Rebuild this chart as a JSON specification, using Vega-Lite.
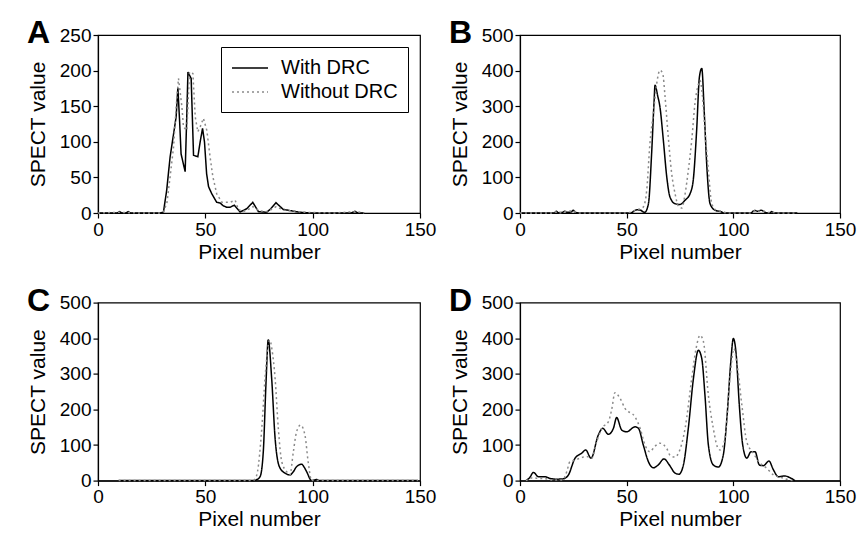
{
  "$schema": "https://vega.github.io/schema/vega-lite/v6.json",
  "background": "white",
  "padding": {"left": 26, "top": 16, "right": 0, "bottom": 0},
  "config": {
    "font": "Liberation Sans",
    "view": {"stroke": "black", "strokeWidth": 1.2},
    "axis": {"domainColor": "black", "domainWidth": 1.2, "tickColor": "black", "tickWidth": 1.2, "tickSize": 5, "labelColor": "black", "titleColor": "black", "grid": false, "labelFontSize": 19, "titleFontSize": 21, "titleFontWeight": "normal", "labelPadding": 2, "labelFlush": false, "labelOverlap": false},
    "axisY": {"titlePadding": 11},
    "axisX": {"titlePadding": 2},
    "legend": {"orient": "top-right", "offset": 12, "strokeColor": "black", "padding": 10, "labelFontSize": 20, "labelColor": "black", "symbolType": "M-1,0H2.6", "symbolSize": 400, "symbolStrokeWidth": 1.5, "labelOffset": 28, "rowPadding": 3, "fillColor": "white"},
    "title": {"anchor": "start", "frame": "group", "fontSize": 32, "fontWeight": "bold", "color": "black", "dx": -71, "dy": 28, "offset": 0, "baseline": "alphabetic"},
    "line": {"strokeWidth": 1.5}
  },
  "datasets": {
    "A": [
      {"x":0,"y":0,"s":"With DRC"},{"x":5,"y":0,"s":"With DRC"},{"x":9,"y":0,"s":"With DRC"},{"x":10,"y":2,"s":"With DRC"},{"x":11,"y":0,"s":"With DRC"},{"x":13,"y":0,"s":"With DRC"},{"x":14,"y":2,"s":"With DRC"},{"x":15,"y":0,"s":"With DRC"},{"x":20,"y":0,"s":"With DRC"},{"x":25,"y":0,"s":"With DRC"},{"x":29,"y":0,"s":"With DRC"},{"x":30.5,"y":1.4,"s":"With DRC"},{"x":32,"y":32,"s":"With DRC"},{"x":33.6,"y":79,"s":"With DRC"},{"x":35.2,"y":111,"s":"With DRC"},{"x":36.4,"y":135,"s":"With DRC"},{"x":37.2,"y":176,"s":"With DRC"},{"x":38,"y":130,"s":"With DRC"},{"x":38.7,"y":83,"s":"With DRC"},{"x":40.6,"y":58,"s":"With DRC"},{"x":41.3,"y":130,"s":"With DRC"},{"x":41.9,"y":198,"s":"With DRC"},{"x":43.4,"y":189,"s":"With DRC"},{"x":44.5,"y":81,"s":"With DRC"},{"x":46.5,"y":79,"s":"With DRC"},{"x":47.6,"y":100,"s":"With DRC"},{"x":48.7,"y":119,"s":"With DRC"},{"x":49.6,"y":100,"s":"With DRC"},{"x":50.6,"y":55,"s":"With DRC"},{"x":51.5,"y":37,"s":"With DRC"},{"x":53,"y":27,"s":"With DRC"},{"x":55.3,"y":15,"s":"With DRC"},{"x":56.9,"y":14,"s":"With DRC"},{"x":58.4,"y":10,"s":"With DRC"},{"x":60,"y":8,"s":"With DRC"},{"x":61.5,"y":8,"s":"With DRC"},{"x":63.5,"y":11,"s":"With DRC"},{"x":66.2,"y":1.4,"s":"With DRC"},{"x":69.3,"y":6,"s":"With DRC"},{"x":72.1,"y":15,"s":"With DRC"},{"x":74.7,"y":2,"s":"With DRC"},{"x":78.6,"y":1,"s":"With DRC"},{"x":80.5,"y":6,"s":"With DRC"},{"x":82.9,"y":14.5,"s":"With DRC"},{"x":86.3,"y":5,"s":"With DRC"},{"x":90.2,"y":3,"s":"With DRC"},{"x":94,"y":1,"s":"With DRC"},{"x":100,"y":0,"s":"With DRC"},{"x":110,"y":0,"s":"With DRC"},{"x":118,"y":0,"s":"With DRC"},{"x":119.7,"y":2.4,"s":"With DRC"},{"x":121,"y":0,"s":"With DRC"},{"x":124,"y":0,"s":"With DRC"},
      {"x":0,"y":0,"s":"Without DRC"},{"x":10,"y":1,"s":"Without DRC"},{"x":20,"y":0,"s":"Without DRC"},{"x":29,"y":0,"s":"Without DRC"},{"x":30.5,"y":2,"s":"Without DRC"},{"x":32.1,"y":14,"s":"Without DRC"},{"x":33.6,"y":51,"s":"Without DRC"},{"x":35.2,"y":93,"s":"Without DRC"},{"x":36.4,"y":149,"s":"Without DRC"},{"x":37.5,"y":189,"s":"Without DRC"},{"x":39.1,"y":149,"s":"Without DRC"},{"x":39.8,"y":121,"s":"Without DRC"},{"x":41.4,"y":116,"s":"Without DRC"},{"x":42.6,"y":198,"s":"Without DRC"},{"x":44.2,"y":196,"s":"Without DRC"},{"x":45.3,"y":135,"s":"Without DRC"},{"x":46.5,"y":114,"s":"Without DRC"},{"x":47.6,"y":121,"s":"Without DRC"},{"x":49.1,"y":133,"s":"Without DRC"},{"x":50.7,"y":116,"s":"Without DRC"},{"x":52.2,"y":79,"s":"Without DRC"},{"x":53.5,"y":51,"s":"Without DRC"},{"x":55.3,"y":27,"s":"Without DRC"},{"x":57.7,"y":15,"s":"Without DRC"},{"x":61.5,"y":15,"s":"Without DRC"},{"x":63.9,"y":18,"s":"Without DRC"},{"x":65.4,"y":5,"s":"Without DRC"},{"x":67.5,"y":2,"s":"Without DRC"},{"x":69.5,"y":4,"s":"Without DRC"},{"x":72.2,"y":9,"s":"Without DRC"},{"x":75,"y":3,"s":"Without DRC"},{"x":79,"y":2,"s":"Without DRC"},{"x":83,"y":9,"s":"Without DRC"},{"x":86.5,"y":4,"s":"Without DRC"},{"x":91,"y":3,"s":"Without DRC"},{"x":95,"y":1,"s":"Without DRC"},{"x":110,"y":0,"s":"Without DRC"},{"x":120,"y":2,"s":"Without DRC"},{"x":124,"y":0,"s":"Without DRC"}
    ],
    "B": [
      {"x":0,"y":0,"s":"With DRC"},{"x":10,"y":0,"s":"With DRC"},{"x":16,"y":0,"s":"With DRC"},{"x":17,"y":5,"s":"With DRC"},{"x":18,"y":1,"s":"With DRC"},{"x":20,"y":2,"s":"With DRC"},{"x":21,"y":5,"s":"With DRC"},{"x":22,"y":2,"s":"With DRC"},{"x":24,"y":3,"s":"With DRC"},{"x":25,"y":8,"s":"With DRC"},{"x":26,"y":2,"s":"With DRC"},{"x":28,"y":0,"s":"With DRC"},{"x":40,"y":0,"s":"With DRC"},{"x":52,"y":0,"s":"With DRC"},{"x":53.5,"y":6,"s":"With DRC"},{"x":55,"y":9,"s":"With DRC"},{"x":56.5,"y":8,"s":"With DRC"},{"x":57.5,"y":4,"s":"With DRC"},{"x":58.5,"y":2,"s":"With DRC"},{"x":60.2,"y":26,"s":"With DRC"},{"x":61.7,"y":167,"s":"With DRC"},{"x":62.8,"y":307,"s":"With DRC"},{"x":63.3,"y":359,"s":"With DRC"},{"x":64.5,"y":330,"s":"With DRC"},{"x":65.6,"y":298,"s":"With DRC"},{"x":67.2,"y":204,"s":"With DRC"},{"x":68.8,"y":101,"s":"With DRC"},{"x":70.3,"y":45,"s":"With DRC"},{"x":72.7,"y":26,"s":"With DRC"},{"x":75,"y":24,"s":"With DRC"},{"x":77.4,"y":36,"s":"With DRC"},{"x":79.7,"y":54,"s":"With DRC"},{"x":81.2,"y":92,"s":"With DRC"},{"x":82.8,"y":232,"s":"With DRC"},{"x":84.1,"y":382,"s":"With DRC"},{"x":85.2,"y":406,"s":"With DRC"},{"x":86.4,"y":279,"s":"With DRC"},{"x":87.5,"y":139,"s":"With DRC"},{"x":89.1,"y":26,"s":"With DRC"},{"x":91.4,"y":8,"s":"With DRC"},{"x":94,"y":4,"s":"With DRC"},{"x":96,"y":0,"s":"With DRC"},{"x":108,"y":0,"s":"With DRC"},{"x":110,"y":7,"s":"With DRC"},{"x":111.5,"y":5,"s":"With DRC"},{"x":113,"y":8,"s":"With DRC"},{"x":115,"y":2,"s":"With DRC"},{"x":117,"y":0,"s":"With DRC"},{"x":118,"y":4,"s":"With DRC"},{"x":119,"y":0,"s":"With DRC"},{"x":125,"y":0,"s":"With DRC"},{"x":130,"y":0,"s":"With DRC"},
      {"x":0,"y":0,"s":"Without DRC"},{"x":16,"y":0,"s":"Without DRC"},{"x":17,"y":4,"s":"Without DRC"},{"x":19,"y":1,"s":"Without DRC"},{"x":21,"y":4,"s":"Without DRC"},{"x":25,"y":6,"s":"Without DRC"},{"x":27,"y":0,"s":"Without DRC"},{"x":50,"y":0,"s":"Without DRC"},{"x":53,"y":5,"s":"Without DRC"},{"x":55,"y":10,"s":"Without DRC"},{"x":56.5,"y":12,"s":"Without DRC"},{"x":57.8,"y":17,"s":"Without DRC"},{"x":59.4,"y":64,"s":"Without DRC"},{"x":60.9,"y":195,"s":"Without DRC"},{"x":62.5,"y":279,"s":"Without DRC"},{"x":64.1,"y":364,"s":"Without DRC"},{"x":65.6,"y":401,"s":"Without DRC"},{"x":66.9,"y":392,"s":"Without DRC"},{"x":68,"y":326,"s":"Without DRC"},{"x":69.5,"y":214,"s":"Without DRC"},{"x":71.1,"y":111,"s":"Without DRC"},{"x":72.7,"y":54,"s":"Without DRC"},{"x":74.2,"y":20,"s":"Without DRC"},{"x":75.8,"y":14,"s":"Without DRC"},{"x":77.4,"y":54,"s":"Without DRC"},{"x":78.9,"y":120,"s":"Without DRC"},{"x":80.5,"y":204,"s":"Without DRC"},{"x":82,"y":307,"s":"Without DRC"},{"x":83.3,"y":354,"s":"Without DRC"},{"x":84.4,"y":372,"s":"Without DRC"},{"x":85.5,"y":330,"s":"Without DRC"},{"x":86.7,"y":232,"s":"Without DRC"},{"x":88.3,"y":120,"s":"Without DRC"},{"x":89.9,"y":26,"s":"Without DRC"},{"x":92,"y":8,"s":"Without DRC"},{"x":95,"y":4,"s":"Without DRC"},{"x":97,"y":0,"s":"Without DRC"},{"x":108,"y":0,"s":"Without DRC"},{"x":110,"y":6,"s":"Without DRC"},{"x":112,"y":5,"s":"Without DRC"},{"x":113.5,"y":7,"s":"Without DRC"},{"x":116,"y":1,"s":"Without DRC"},{"x":118,"y":3,"s":"Without DRC"},{"x":120,"y":0,"s":"Without DRC"},{"x":130,"y":0,"s":"Without DRC"}
    ],
    "C": [
      {"x":9.6,"y":0,"s":"With DRC"},{"x":30,"y":0,"s":"With DRC"},{"x":50,"y":0,"s":"With DRC"},{"x":72,"y":0,"s":"With DRC"},{"x":74,"y":3,"s":"With DRC"},{"x":75.5,"y":11,"s":"With DRC"},{"x":77,"y":81,"s":"With DRC"},{"x":78.3,"y":280,"s":"With DRC"},{"x":79.3,"y":395,"s":"With DRC"},{"x":80.9,"y":287,"s":"With DRC"},{"x":82.5,"y":119,"s":"With DRC"},{"x":84.5,"y":39,"s":"With DRC"},{"x":87.1,"y":21,"s":"With DRC"},{"x":89.4,"y":16,"s":"With DRC"},{"x":91,"y":25,"s":"With DRC"},{"x":92.5,"y":39,"s":"With DRC"},{"x":94.9,"y":46,"s":"With DRC"},{"x":96,"y":38,"s":"With DRC"},{"x":97.2,"y":25,"s":"With DRC"},{"x":99.5,"y":0,"s":"With DRC"},{"x":101,"y":2,"s":"With DRC"},{"x":102,"y":3,"s":"With DRC"},{"x":103,"y":0,"s":"With DRC"},{"x":110,"y":0,"s":"With DRC"},{"x":130,"y":0,"s":"With DRC"},{"x":149,"y":0,"s":"With DRC"},
      {"x":9.6,"y":0,"s":"Without DRC"},{"x":30,"y":0,"s":"Without DRC"},{"x":50,"y":0,"s":"Without DRC"},{"x":72,"y":0,"s":"Without DRC"},{"x":73.2,"y":5,"s":"Without DRC"},{"x":74.3,"y":25,"s":"Without DRC"},{"x":76.3,"y":147,"s":"Without DRC"},{"x":77.8,"y":287,"s":"Without DRC"},{"x":79.3,"y":380,"s":"Without DRC"},{"x":80,"y":395,"s":"Without DRC"},{"x":81,"y":370,"s":"Without DRC"},{"x":82.5,"y":287,"s":"Without DRC"},{"x":84,"y":147,"s":"Without DRC"},{"x":85.6,"y":53,"s":"Without DRC"},{"x":87.9,"y":25,"s":"Without DRC"},{"x":89.4,"y":16,"s":"Without DRC"},{"x":91,"y":81,"s":"Without DRC"},{"x":92.5,"y":137,"s":"Without DRC"},{"x":94.4,"y":156,"s":"Without DRC"},{"x":96.4,"y":128,"s":"Without DRC"},{"x":97.9,"y":53,"s":"Without DRC"},{"x":99.5,"y":0,"s":"Without DRC"},{"x":110,"y":0,"s":"Without DRC"},{"x":130,"y":0,"s":"Without DRC"},{"x":149,"y":0,"s":"Without DRC"}
    ],
    "D": [
      {"x":2.8,"y":0,"s":"With DRC"},{"x":4.5,"y":8,"s":"With DRC"},{"x":6.3,"y":23,"s":"With DRC"},{"x":8.6,"y":11,"s":"With DRC"},{"x":11.7,"y":11,"s":"With DRC"},{"x":14.1,"y":6,"s":"With DRC"},{"x":17,"y":4,"s":"With DRC"},{"x":20.3,"y":5,"s":"With DRC"},{"x":22.7,"y":16,"s":"With DRC"},{"x":25.8,"y":63,"s":"With DRC"},{"x":28.9,"y":77,"s":"With DRC"},{"x":30.8,"y":86,"s":"With DRC"},{"x":33.3,"y":63,"s":"With DRC"},{"x":36.7,"y":128,"s":"With DRC"},{"x":38.8,"y":147,"s":"With DRC"},{"x":41.4,"y":130,"s":"With DRC"},{"x":43.8,"y":147,"s":"With DRC"},{"x":45.3,"y":177,"s":"With DRC"},{"x":47.7,"y":142,"s":"With DRC"},{"x":50,"y":137,"s":"With DRC"},{"x":53.9,"y":151,"s":"With DRC"},{"x":55.5,"y":147,"s":"With DRC"},{"x":57.8,"y":100,"s":"With DRC"},{"x":60.2,"y":53,"s":"With DRC"},{"x":62.5,"y":36,"s":"With DRC"},{"x":64.8,"y":44,"s":"With DRC"},{"x":67.5,"y":61,"s":"With DRC"},{"x":70,"y":44,"s":"With DRC"},{"x":72.7,"y":21,"s":"With DRC"},{"x":74.5,"y":18,"s":"With DRC"},{"x":76.6,"y":44,"s":"With DRC"},{"x":78.9,"y":147,"s":"With DRC"},{"x":81.3,"y":287,"s":"With DRC"},{"x":83.6,"y":366,"s":"With DRC"},{"x":85.2,"y":343,"s":"With DRC"},{"x":86.7,"y":240,"s":"With DRC"},{"x":88.3,"y":100,"s":"With DRC"},{"x":90.6,"y":44,"s":"With DRC"},{"x":93,"y":38,"s":"With DRC"},{"x":95.3,"y":72,"s":"With DRC"},{"x":97.2,"y":193,"s":"With DRC"},{"x":98.8,"y":333,"s":"With DRC"},{"x":100,"y":399,"s":"With DRC"},{"x":101.3,"y":357,"s":"With DRC"},{"x":102.8,"y":212,"s":"With DRC"},{"x":104.4,"y":100,"s":"With DRC"},{"x":106.3,"y":63,"s":"With DRC"},{"x":108.3,"y":81,"s":"With DRC"},{"x":110.2,"y":81,"s":"With DRC"},{"x":112.2,"y":44,"s":"With DRC"},{"x":114.1,"y":42,"s":"With DRC"},{"x":116.7,"y":55,"s":"With DRC"},{"x":118.8,"y":30,"s":"With DRC"},{"x":121.1,"y":11,"s":"With DRC"},{"x":124.2,"y":13,"s":"With DRC"},{"x":126.6,"y":8,"s":"With DRC"},{"x":128.9,"y":0,"s":"With DRC"},
      {"x":2.8,"y":0,"s":"Without DRC"},{"x":6,"y":8,"s":"Without DRC"},{"x":9,"y":6,"s":"Without DRC"},{"x":12,"y":5,"s":"Without DRC"},{"x":15,"y":2,"s":"Without DRC"},{"x":20,"y":2,"s":"Without DRC"},{"x":21.9,"y":25,"s":"Without DRC"},{"x":23.4,"y":53,"s":"Without DRC"},{"x":26,"y":58,"s":"Without DRC"},{"x":28.1,"y":63,"s":"Without DRC"},{"x":31.3,"y":68,"s":"Without DRC"},{"x":33.6,"y":63,"s":"Without DRC"},{"x":36,"y":110,"s":"Without DRC"},{"x":38.3,"y":147,"s":"Without DRC"},{"x":41.4,"y":165,"s":"Without DRC"},{"x":43,"y":200,"s":"Without DRC"},{"x":44.5,"y":247,"s":"Without DRC"},{"x":46.9,"y":231,"s":"Without DRC"},{"x":49.2,"y":203,"s":"Without DRC"},{"x":53.9,"y":179,"s":"Without DRC"},{"x":56.3,"y":147,"s":"Without DRC"},{"x":58.6,"y":100,"s":"Without DRC"},{"x":60.9,"y":81,"s":"Without DRC"},{"x":63,"y":95,"s":"Without DRC"},{"x":65.6,"y":105,"s":"Without DRC"},{"x":68.8,"y":90,"s":"Without DRC"},{"x":70.5,"y":70,"s":"Without DRC"},{"x":72.7,"y":66,"s":"Without DRC"},{"x":74.5,"y":80,"s":"Without DRC"},{"x":77.4,"y":147,"s":"Without DRC"},{"x":80.5,"y":287,"s":"Without DRC"},{"x":82.5,"y":370,"s":"Without DRC"},{"x":84.4,"y":408,"s":"Without DRC"},{"x":86,"y":390,"s":"Without DRC"},{"x":88.3,"y":240,"s":"Without DRC"},{"x":90.6,"y":147,"s":"Without DRC"},{"x":92.5,"y":95,"s":"Without DRC"},{"x":93.8,"y":86,"s":"Without DRC"},{"x":96.1,"y":119,"s":"Without DRC"},{"x":98.4,"y":287,"s":"Without DRC"},{"x":100.3,"y":371,"s":"Without DRC"},{"x":101.6,"y":333,"s":"Without DRC"},{"x":104,"y":212,"s":"Without DRC"},{"x":106.3,"y":109,"s":"Without DRC"},{"x":109.4,"y":77,"s":"Without DRC"},{"x":112.5,"y":49,"s":"Without DRC"},{"x":115.6,"y":35,"s":"Without DRC"},{"x":118.8,"y":16,"s":"Without DRC"},{"x":121.9,"y":10,"s":"Without DRC"},{"x":124.2,"y":5,"s":"Without DRC"},{"x":128,"y":0,"s":"Without DRC"}
    ]
  },
  "columns": 2,
  "spacing": {"row": 89.6, "column": 100},
  "bounds": "flush",
  "resolve": {"scale": {"color": "independent", "strokeDash": "independent"}, "legend": {"color": "independent", "strokeDash": "independent"}},
  "concat": [
    {
      "width": 322, "height": 178,
      "title": {"text": "A"},
      "data": {"name": "A"},
      "mark": {"type": "line", "strokeWidth": 1.5},
      "encoding": {
        "x": {"field": "x", "type": "quantitative", "scale": {"domain": [0, 150]}, "axis": {"values": [0, 50, 100, 150], "title": "Pixel number"}},
        "y": {"field": "y", "type": "quantitative", "scale": {"domain": [0, 250]}, "axis": {"values": [0, 50, 100, 150, 200, 250], "title": "SPECT value"}},
        "color": {"field": "s", "type": "nominal", "scale": {"domain": ["With DRC", "Without DRC"], "range": ["#000000", "#8a8a8a"]}, "legend": {"title": null}},
        "strokeDash": {"field": "s", "type": "nominal", "scale": {"domain": ["With DRC", "Without DRC"], "range": [[1, 0], [2, 3]]}, "legend": {"title": null}}
      }
    },
    {
      "width": 320, "height": 178,
      "title": {"text": "B"},
      "data": {"name": "B"},
      "mark": {"type": "line", "strokeWidth": 1.5, "interpolate": "monotone"},
      "encoding": {
        "x": {"field": "x", "type": "quantitative", "scale": {"domain": [0, 150]}, "axis": {"values": [0, 50, 100, 150], "title": "Pixel number"}},
        "y": {"field": "y", "type": "quantitative", "scale": {"domain": [0, 500]}, "axis": {"values": [0, 100, 200, 300, 400, 500], "title": "SPECT value"}},
        "color": {"field": "s", "type": "nominal", "scale": {"domain": ["With DRC", "Without DRC"], "range": ["#000000", "#8a8a8a"]}, "legend": null},
        "strokeDash": {"field": "s", "type": "nominal", "scale": {"domain": ["With DRC", "Without DRC"], "range": [[1, 0], [2, 3]]}, "legend": null}
      }
    },
    {
      "width": 322, "height": 178,
      "title": {"text": "C"},
      "data": {"name": "C"},
      "mark": {"type": "line", "strokeWidth": 1.5, "interpolate": "monotone"},
      "encoding": {
        "x": {"field": "x", "type": "quantitative", "scale": {"domain": [0, 150]}, "axis": {"values": [0, 50, 100, 150], "title": "Pixel number"}},
        "y": {"field": "y", "type": "quantitative", "scale": {"domain": [0, 500]}, "axis": {"values": [0, 100, 200, 300, 400, 500], "title": "SPECT value"}},
        "color": {"field": "s", "type": "nominal", "scale": {"domain": ["With DRC", "Without DRC"], "range": ["#000000", "#8a8a8a"]}, "legend": null},
        "strokeDash": {"field": "s", "type": "nominal", "scale": {"domain": ["With DRC", "Without DRC"], "range": [[1, 0], [2, 3]]}, "legend": null}
      }
    },
    {
      "width": 320, "height": 178,
      "title": {"text": "D"},
      "data": {"name": "D"},
      "mark": {"type": "line", "strokeWidth": 1.5, "interpolate": "monotone"},
      "encoding": {
        "x": {"field": "x", "type": "quantitative", "scale": {"domain": [0, 150]}, "axis": {"values": [0, 50, 100, 150], "title": "Pixel number"}},
        "y": {"field": "y", "type": "quantitative", "scale": {"domain": [0, 500]}, "axis": {"values": [0, 100, 200, 300, 400, 500], "title": "SPECT value"}},
        "color": {"field": "s", "type": "nominal", "scale": {"domain": ["With DRC", "Without DRC"], "range": ["#000000", "#8a8a8a"]}, "legend": null},
        "strokeDash": {"field": "s", "type": "nominal", "scale": {"domain": ["With DRC", "Without DRC"], "range": [[1, 0], [2, 3]]}, "legend": null}
      }
    }
  ]
}
